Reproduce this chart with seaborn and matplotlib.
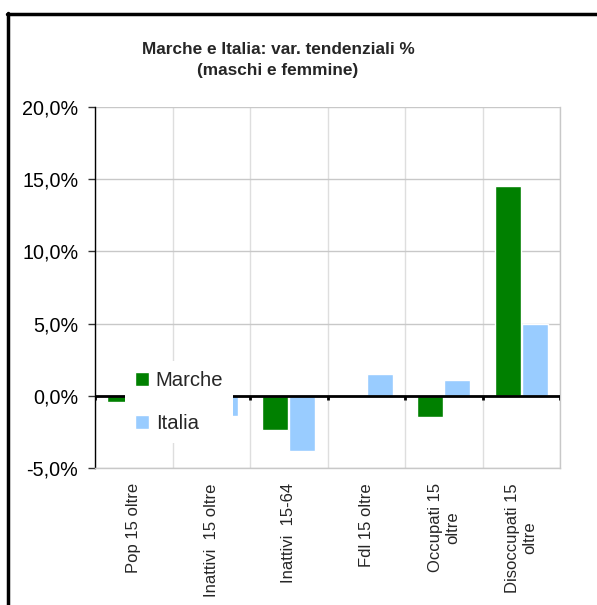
import pandas as pd
import seaborn as sns
import matplotlib.pyplot as plt
from matplotlib.lines import Line2D

# -------------------------------
# DATA
# -------------------------------
categories = ["Pop 15 oltre", "Inattivi  15 oltre", "Inattivi  15-64",
              "Fdl 15 oltre", "Occupati 15\noltre", "Disoccupati 15\noltre"]
marche = [-0.4, -1.0, -2.4, 0.0, -1.5, 14.5]
italia = [0.3, -1.4, -3.8, 1.5, 1.1, 5.0]
y_ticks = [-5, 0, 5, 10, 15, 20]
y_labels = ["-5,0%", "0,0%", "5,0%", "10,0%", "15,0%", "20,0%"]

df = pd.DataFrame({
    "categoria": categories * 2,
    "valore": marche + italia,
    "area": ["Marche"] * len(categories) + ["Italia"] * len(categories),
})

# -------------------------------
# STYLE
# -------------------------------
sns.set_theme(style="white")
plt.rcParams["font.family"] = ["Liberation Sans", "DejaVu Sans"]

W, H = 597, 605
fig = plt.figure(figsize=(W / 100, H / 100), dpi=100)
ax = fig.add_axes([95 / W, 1 - 468 / H, 465 / W, 361 / H])

sns.barplot(
    data=df, x="categoria", y="valore", hue="area",
    palette={"Marche": "#008000", "Italia": "#99ccff"},
    width=0.7, gap=0.05, saturation=1, ax=ax, zorder=3,
)

ax.set_xlim(-0.5, len(categories) - 0.5)
ax.set_ylim(-5, 20)
ax.set_yticks(y_ticks)
ax.set_yticklabels(y_labels, fontsize=14.2)
ax.set_xlabel("")
ax.set_ylabel("")

# category labels at centres, grid at boundaries
ax.set_xticks(range(len(categories)))
ax.set_xticklabels(categories, rotation=90, fontsize=12, ha="center",
                   va="top", multialignment="center")
ax.set_xticks([i - 0.5 for i in range(len(categories) + 1)], minor=True)
ax.tick_params(axis="x", which="both", length=0, pad=11)
ax.tick_params(axis="y", left=True, length=5, width=1, color="#333333",
               pad=7, labelcolor="black")
ax.grid(axis="y", which="major", color="#c8c8c8", lw=1, zorder=0)
ax.grid(axis="x", which="minor", color="#dedede", lw=1, zorder=0)
ax.grid(axis="x", which="major", visible=False)

for side in ["top", "right", "bottom"]:
    ax.spines[side].set_color("#c8c8c8")
    ax.spines[side].set_linewidth(1)
ax.spines["top"].set_visible(False)
ax.spines["left"].set_color("black")
ax.spines["left"].set_linewidth(1)

# zero line with small ticks at category boundaries
ax.axhline(0, color="black", lw=2, zorder=4)
ax.vlines([i - 0.5 for i in range(len(categories) + 1)], -0.3, 0,
          color="black", lw=2, zorder=4)

leg = ax.legend(
    loc="upper left", bbox_to_anchor=(0.065, 0.296), borderaxespad=0,
    frameon=True, fancybox=False, facecolor="white", edgecolor="none",
    framealpha=1, fontsize=14.6, handlelength=0.65, handleheight=0.65,
    handletextpad=0.35, labelspacing=1.17, borderpad=0.5,
)
leg.set_zorder(10)

fig.text(278 / W, 1 - 60 / H,
         "Marche e Italia: var. tendenziali %\n(maschi e femmine)",
         ha="center", va="center", fontsize=12.4, weight="bold",
         linespacing=1.5)

# outer frame (top and left edges of the chart box)
fig.add_artist(Line2D([7 / W, 1.0], [1 - 14 / H, 1 - 14 / H],
                      transform=fig.transFigure, color="black", lw=2.5))
fig.add_artist(Line2D([8 / W, 8 / W], [0, 1 - 13 / H],
                      transform=fig.transFigure, color="black", lw=2.5))

plt.savefig("out.png", dpi=100)
plt.close()
